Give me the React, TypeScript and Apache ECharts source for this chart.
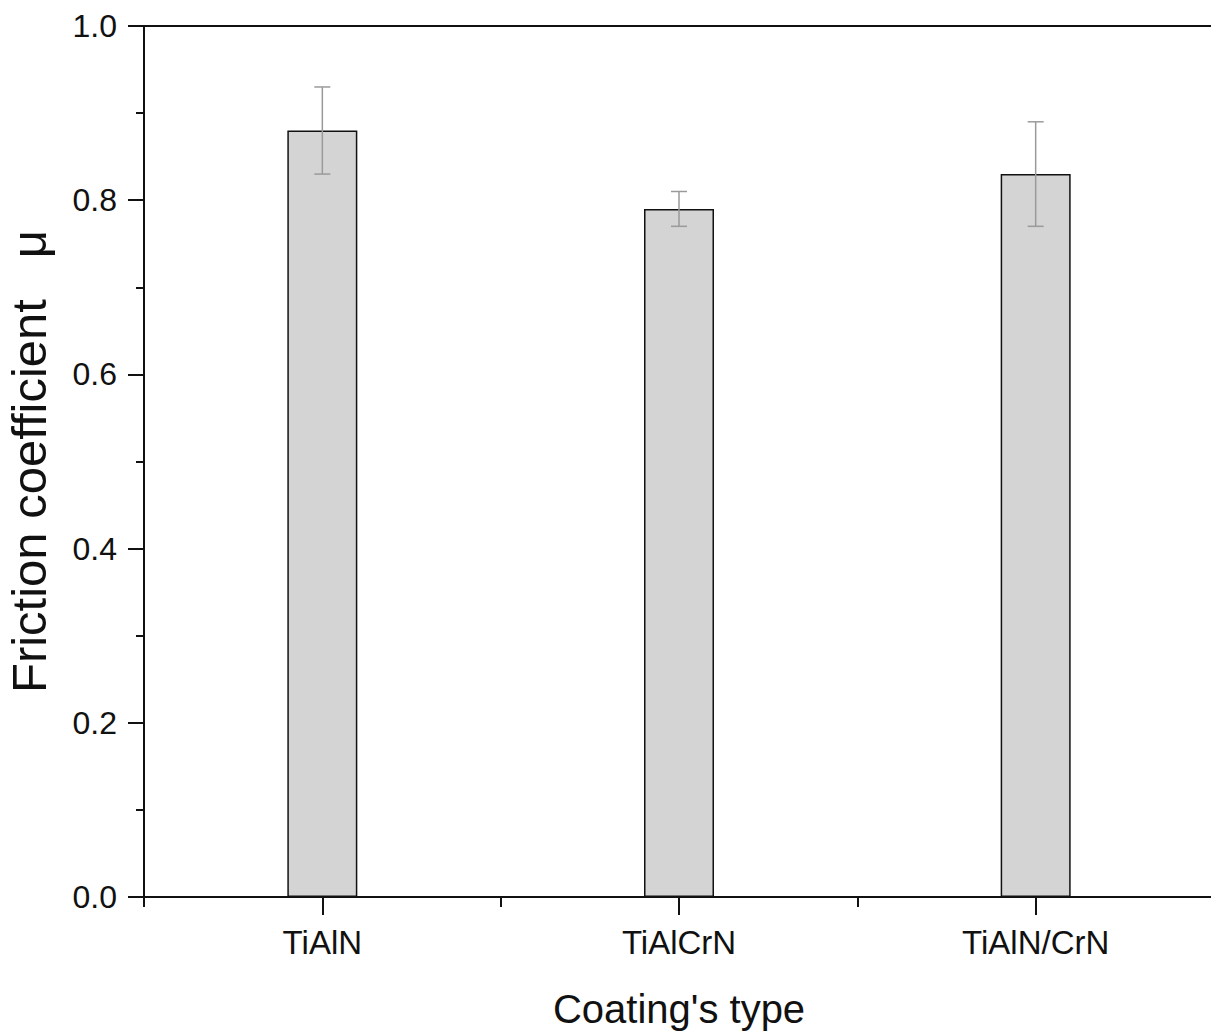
import React, { useEffect, useRef } from "react";
import * as echarts from "echarts";

const categories = ["TiAlN", "TiAlCrN", "TiAlN/CrN"];
const frictionMean = [0.88, 0.79, 0.83];
const errorLow = [0.83, 0.77, 0.77];
const errorHigh = [0.93, 0.81, 0.89];

const FONT = "'Liberation Sans', Arial, Helvetica, sans-serif";

export default function App() {
  const ref = useRef<HTMLDivElement>(null);
  useEffect(() => {
    document.body.style.margin = "0";
    const chart = echarts.init(ref.current!, null, { renderer: "svg" });
    const axisLineStyle = { color: "#111", width: 2 };
    chart.setOption({
      animation: false,
      backgroundColor: "#ffffff",
      grid: { left: 144, top: 26, right: -3, bottom: 138, outerBoundsMode: "none", containLabel: false },
      xAxis: [
        {
          type: "category",
          data: categories,
          position: "bottom",
          axisLine: { lineStyle: axisLineStyle },
          axisTick: { show: true, length: 10, lineStyle: { color: "#111", width: 2 } },
          axisLabel: { fontSize: 33, color: "#111", margin: 29, fontFamily: FONT },
          splitLine: { show: false },
          name: "Coating's type",
          nameLocation: "middle",
          nameGap: 92,
          nameTextStyle: { fontSize: 40, color: "#111", fontFamily: FONT },
        },
        {
          type: "category",
          data: categories,
          position: "bottom",
          axisLine: { show: false },
          axisTick: { show: true, alignWithLabel: true, length: 18, lineStyle: { color: "#111", width: 2 } },
          axisLabel: { show: false },
          splitLine: { show: false },
        },
        {
          type: "category",
          data: categories,
          position: "top",
          axisLine: { lineStyle: axisLineStyle },
          axisTick: { show: false },
          axisLabel: { show: false },
          splitLine: { show: false },
        },
      ],
      yAxis: {
        type: "value",
        min: 0,
        max: 1,
        interval: 0.2,
        axisLine: { show: true, lineStyle: axisLineStyle },
        axisTick: { show: true, length: 16, lineStyle: { color: "#111", width: 2 } },
        minorTick: { show: true, splitNumber: 2, length: 8, lineStyle: { color: "#111", width: 2 } },
        splitLine: { show: false },
        axisLabel: {
          fontSize: 32,
          color: "#111",
          margin: 27,
          fontFamily: FONT,
          formatter: (v: number) => v.toFixed(1),
        },
        name: "Friction coefficient   \u03bc",
        nameLocation: "middle",
        nameGap: 92,
        nameTextStyle: { fontSize: 49, lineHeight: 46, color: "#111", fontFamily: FONT },
      },
      series: [
        {
          type: "bar",
          data: frictionMean,
          barWidth: 70,
          itemStyle: { color: "#d4d4d4", borderColor: "#111", borderWidth: 1.5 },
        },
        {
          type: "custom",
          data: categories.map((_, i) => [i, errorLow[i], errorHigh[i]]),
          renderItem: (params: any, api: any) => {
            const x = api.value(0);
            const lo = api.coord([x, api.value(1)]);
            const hi = api.coord([x, api.value(2)]);
            const hw = 8;
            const style = { stroke: "#9a9a9a", lineWidth: 1.5 };
            return {
              type: "group",
              children: [
                { type: "line", shape: { x1: hi[0], y1: hi[1], x2: lo[0], y2: lo[1] }, style },
                { type: "line", shape: { x1: hi[0] - hw, y1: hi[1], x2: hi[0] + hw, y2: hi[1] }, style },
                { type: "line", shape: { x1: lo[0] - hw, y1: lo[1], x2: lo[0] + hw, y2: lo[1] }, style },
              ],
            };
          },
          z: 5,
        },
      ],
    });
    return () => chart.dispose();
  }, []);
  return <div ref={ref} style={{ width: 1211, height: 1035 }} />;
}
